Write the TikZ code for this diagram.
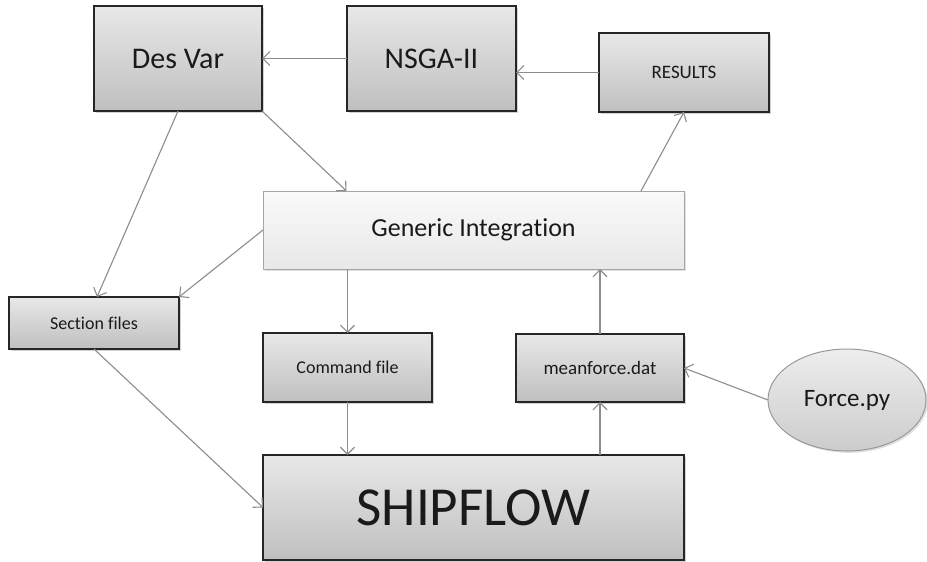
\documentclass[tikz,border=0pt]{standalone}
\usepackage{fontspec}
\setmainfont[Ligatures=NoCommon]{Carlito}
\usetikzlibrary{arrows.meta,shapes.geometric,shadows}
\definecolor{txt}{HTML}{1A1A1A}
\definecolor{arrgray}{HTML}{8C8C8C}
\tikzset{
  box/.style={draw=black!85, line width=1.3pt, rectangle, inner sep=0pt, outer sep=0pt,
    top color=black!9, bottom color=black!25, text=txt,
    drop shadow={shadow xshift=1.8pt, shadow yshift=-1.8pt, opacity=0.35}},
  lightbox/.style={draw=black!35, line width=1pt, rectangle, inner sep=0pt, outer sep=0pt,
    top color=black!2, bottom color=black!9, text=txt,
    drop shadow={shadow xshift=1.8pt, shadow yshift=-1.8pt, opacity=0.25}},
  ellbox/.style={draw=black!40, line width=1pt, ellipse, inner sep=0pt, outer sep=0pt,
    top color=black!7, bottom color=black!20, text=txt,
    drop shadow={shadow xshift=1.8pt, shadow yshift=-1.8pt, opacity=0.25}},
  arr/.style={draw=arrgray, line width=1.1pt, -{Straight Barb[length=7pt,width=14pt]}},
}
\begin{document}
\begin{tikzpicture}[x=1pt,y=-1pt]
\useasboundingbox (0,0) rectangle (927,562);
\node[box, minimum width=168pt, minimum height=105pt, font=\fontsize{30}{36}\selectfont] (desvar) at (178,58.5) {Des Var};
\node[box, minimum width=169pt, minimum height=105pt, font=\fontsize{30}{36}\selectfont] (nsga) at (431.5,58.5) {NSGA-II};
\node[box, minimum width=170pt, minimum height=79pt, font=\fontsize{19}{23}\selectfont] (results) at (684,72.5) {RESULTS};
\node[lightbox, minimum width=421pt, minimum height=78pt, font=\fontsize{26}{31}\selectfont] (gi) at (473.5,230) {Generic Integration};
\node[box, minimum width=170pt, minimum height=52pt, font=\fontsize{18}{22}\selectfont] (secfiles) at (94,323) {Section files};
\node[box, minimum width=169pt, minimum height=69pt, font=\fontsize{18}{22}\selectfont] (cmd) at (347.5,367.5) {Command file};
\node[box, minimum width=168pt, minimum height=68pt, font=\fontsize{19}{23}\selectfont] (mf) at (600,368) {meanforce.dat};
\node[box, minimum width=421pt, minimum height=105pt, font=\fontsize{55}{66}\selectfont] (ship) at (473.5,507.5) {SHIPFLOW};
\node[ellbox, minimum width=158pt, minimum height=102pt, font=\fontsize{25}{30}\selectfont] (force) at (847,400) {Force.py};

\draw[arr] (nsga.west) -- (desvar.east);
\draw[arr] (results.west) -- (results.west -| nsga.east);
\draw[arr] ([xshift=167.5pt]gi.north) -- (results.south);
\draw[arr] (desvar.south east) -- ([xshift=-127pt]gi.north);
\draw[arr] (desvar.south) -- ([xshift=3pt]secfiles.north);
\draw[arr] (gi.west) -- (secfiles.north east);
\draw[arr] (gi.south -| cmd.north) -- (cmd.north);
\draw[arr] (cmd.south) -- (cmd.south |- ship.north);
\draw[arr] (ship.north -| mf.south) -- (mf.south);
\draw[arr] (mf.north) -- (mf.north |- gi.south);
\draw[arr] (force.west) -- (mf.east);
\draw[arr] (secfiles.south) -- (ship.west);
\end{tikzpicture}
\end{document}
